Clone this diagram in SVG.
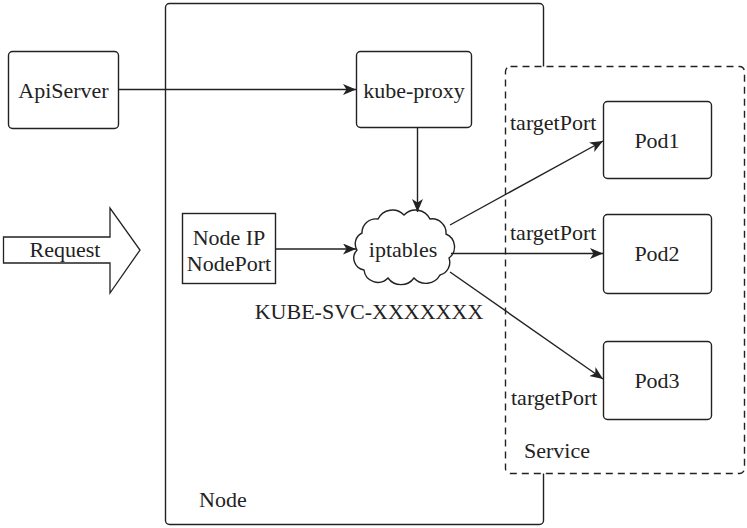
<svg xmlns="http://www.w3.org/2000/svg" width="747" height="528" viewBox="0 0 747 528">
<style>
  .box{fill:#fff;stroke:#222;stroke-width:1.4}
  .t{font-family:"Liberation Serif","Times New Roman",serif;font-size:22px;fill:#222;text-anchor:middle;dominant-baseline:central}
  .tl{font-family:"Liberation Serif","Times New Roman",serif;font-size:22px;fill:#222;dominant-baseline:central}
  .edge{fill:none;stroke:#222;stroke-width:1.4;marker-end:url(#arr)}
</style>
<defs>
  <marker id="arr" markerUnits="userSpaceOnUse" markerWidth="14" markerHeight="12" refX="13" refY="5.5" orient="auto">
    <path d="M0,0 L13,5.5 L0,11 L3.5,5.5 Z" fill="#222"/>
  </marker>
</defs>
<rect width="747" height="528" fill="#fff"/>
<g id="node-host">
  <rect class="box" x="165.5" y="3.5" width="378" height="521" rx="4"/>
  <text class="tl" x="199" y="499">Node</text>
</g>
<g id="service">
  <rect x="505.5" y="66.5" width="239" height="407" rx="5" fill="#fff" stroke="#222" stroke-width="1.4" stroke-dasharray="7,5"/>
  <text class="tl" x="524" y="450">Service</text>
</g>
<g id="apiserver">
  <rect class="box" x="8.5" y="51.5" width="110" height="77" rx="4"/>
  <text class="t" x="63.5" y="90">ApiServer</text>
</g>
<g id="kube-proxy">
  <rect class="box" x="356.5" y="51.5" width="115" height="76" rx="4"/>
  <text class="t" x="414" y="90">kube-proxy</text>
</g>
<g id="request">
  <polygon points="3.5,237 110,237 110,208 140,250 110,293 110,263 3.5,263" fill="#fff" stroke="#222" stroke-width="1.3"/>
  <text class="t" x="65" y="249">Request</text>
</g>
<g id="nodeport">
  <rect x="182.5" y="213.5" width="93" height="70" fill="#fff" stroke="#222" stroke-width="1.4"/>
  <text class="t" x="229" y="237">Node IP</text>
  <text class="t" x="229" y="263">NodePort</text>
</g>
<g id="iptables">
  <path d="M362,233 A14,14 0 0 1 378,219 A16,16 0 0 1 404,215 A16,16 0 0 1 430,219 A14,14 0 0 1 446,234 A14,14 0 0 1 449,258 A13,13 0 0 1 440,275 A16,16 0 0 1 414,278 A16,16 0 0 1 388,278 A14,14 0 0 1 364,270 A12,12 0 0 1 357,250 A12,12 0 0 1 362,233 Z" fill="#fff" stroke="#222" stroke-width="1.4"/>
  <text class="t" x="403" y="249">iptables</text>
  <text class="t" x="369" y="311">KUBE-SVC-XXXXXXX</text>
</g>
<g id="pod1">
  <rect class="box" x="603.5" y="101.5" width="108" height="77" rx="4"/>
  <text class="t" x="657" y="140">Pod1</text>
</g>
<g id="pod2">
  <rect class="box" x="603.5" y="214.5" width="108" height="79" rx="4"/>
  <text class="t" x="657" y="253">Pod2</text>
</g>
<g id="pod3">
  <rect class="box" x="603.5" y="341.5" width="108" height="78" rx="4"/>
  <text class="t" x="657" y="380">Pod3</text>
</g>
<g id="connectors">
  <line class="edge" x1="118.5" y1="89.5" x2="356" y2="89.5"/>
  <line class="edge" x1="417.5" y1="127.5" x2="417.5" y2="212"/>
  <line class="edge" x1="275.5" y1="249" x2="356" y2="249"/>
  <line class="edge" x1="450" y1="225" x2="603" y2="141"/>
  <line class="edge" x1="451" y1="253.5" x2="603" y2="253.5"/>
  <line class="edge" x1="450" y1="272" x2="603" y2="379"/>
  <text class="tl" x="510" y="122">targetPort</text>
  <text class="tl" x="510" y="232">targetPort</text>
  <text class="tl" x="511" y="397">targetPort</text>
</g>
</svg>
